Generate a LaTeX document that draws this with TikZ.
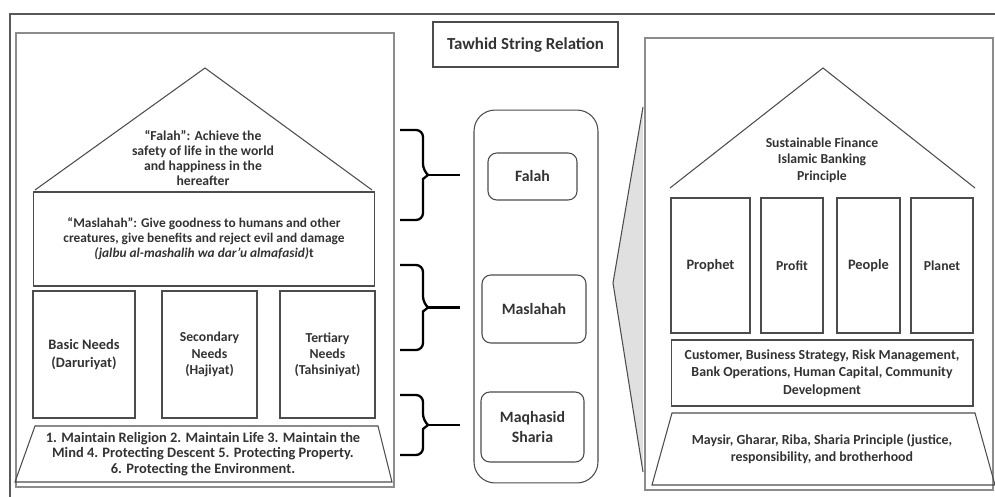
\documentclass[tikz,border=0pt]{standalone}
\usepackage{fontspec}
\setmainfont{Carlito}
\usetikzlibrary{positioning}

\begin{document}
\begin{tikzpicture}[x=0.02cm,y=-0.02cm]
        \tikzstyle{panel}=[draw=black!45, line width=0.6pt]
        \tikzstyle{box}=[draw=black!70, line width=0.6pt, inner sep=1pt, align=center, text=black!80, font=\fontsize{7.8}{9.2}\selectfont\bfseries]
        \tikzstyle{label}=[inner sep=0pt, align=center, text=black!80, font=\fontsize{7.8}{8.7}\selectfont\bfseries]
        \tikzstyle{mid}=[box, rounded corners=5pt, font=\fontsize{9}{11}\selectfont\bfseries]
        \tikzstyle{brace}=[line width=1.3pt]
        \useasboundingbox (0,0) rectangle (995,497);
        % outer frame
        \draw[black!65, line width=1pt] (10,497) -- (10,14) -- (995,14);
        % title
        \node[box, minimum width=3.7cm, minimum height=0.9cm, font=\fontsize{9.6}{11}\selectfont\bfseries] (title) at (525.5,44.5) {Tawhid String Relation};
        % left house
        \draw[panel] (16,33) rectangle (394,487);
        \draw[box] (35,190) -- (205,68) -- (372,190);
        \node[label] (falahtxt) at (203,158) {“Falah”: Achieve the\\safety of life in the world\\and happiness in the\\hereafter};
        \node[box, minimum width=6.84cm, minimum height=1.88cm, font=\fontsize{7.6}{8.6}\selectfont\bfseries] (maslahahL) at (204,239)
          {“Maslahah”: Give goodness to humans and other\\creatures, give benefits and reject evil and damage\\\textit{(jalbu al-mashalih wa dar'u almafasid)}t};
        \node[box, minimum width=2.04cm, minimum height=2.54cm, font=\fontsize{8.2}{9.8}\selectfont\bfseries] (basic) at (84,354.5) {Basic Needs\\(Daruriyat)};
        \node[box, minimum width=1.9cm, minimum height=2.54cm] (secondary) at (209.5,354.5) {Secondary\\Needs\\(Hajiyat)};
        \node[box, minimum width=1.9cm, minimum height=2.54cm] (tertiary) at (327.5,354.5) {Tertiary\\Needs\\(Tahsiniyat)};
        \draw[box] (35,426) -- (378,426) -- (392,482) -- (15,482) -- cycle;
        \node[label, font=\fontsize{8.2}{9}\selectfont\bfseries] (maqtxt) at (203,454) {1. Maintain Religion 2. Maintain Life 3. Maintain the\\Mind 4. Protecting Descent 5. Protecting Property.\\6. Protecting the Environment.};
        % braces
        \foreach \name/\top/\bot in {a/130/220, b/265/350, c/395/455} {
          \draw[brace] (400,\top) [rounded corners=4pt] -- (423,\top) -- (423,{(\top+\bot)/2-4}) [sharp corners] -- (428,{(\top+\bot)/2}) -- (423,{(\top+\bot)/2+4}) [rounded corners=4pt] -- (423,\bot) -- (400,\bot);
          \coordinate (tip\name) at (427,{(\top+\bot)/2});
          \coordinate (end\name) at (460,{(\top+\bot)/2});
          \draw[brace] (tip\name) -- (end\name);
        }
        % middle column
        \node[box, rounded corners=12pt, minimum width=2.48cm, minimum height=7.46cm] (column) at (536,296.5) {};
        \node[mid, minimum width=1.78cm, minimum height=0.94cm] (falah) at (532.5,176.5) {Falah};
        \node[mid, minimum width=2.08cm, minimum height=1.36cm] (maslahah) at (534,309) {Maslahah};
        \node[mid, minimum width=2.06cm, minimum height=1.4cm] (maqhasid) at (532.5,427) {Maqhasid\\Sharia};
        % callout wedge
        \draw[black!70, fill=black!12, line width=0.6pt] (643,107) -- (613,283) -- (643,472);
        % right house
        \draw[panel] (645,38) rectangle (993,490);
        \draw[box] (670,188) -- (823,68) -- (975,188);
        \node[label, font=\fontsize{7.8}{9.5}\selectfont\bfseries] (financetxt) at (822,160) {Sustainable Finance\\Islamic Banking\\Principle};
        \node[box, minimum width=1.58cm, minimum height=2.7cm, font=\fontsize{8.2}{9.5}\selectfont\bfseries] (prophet) at (710.5,265.5) {Prophet};
        \node[box, minimum width=1.24cm, minimum height=2.7cm] (profit) at (792,265.5) {Profit};
        \node[box, minimum width=1.26cm, minimum height=2.7cm, font=\fontsize{8.2}{9.5}\selectfont\bfseries] (people) at (868.5,265.5) {People};
        \node[box, minimum width=1.24cm, minimum height=2.7cm] (planet) at (942,265.5) {Planet};
        \node[box, minimum width=6.04cm, minimum height=1.32cm, font=\fontsize{7.9}{10}\selectfont\bfseries] (customer) at (822,373)
          {Customer, Business Strategy, Risk Management,\\Bank Operations, Human Capital, Community\\Development};
        \draw[box] (672,413) -- (975,413) -- (995,485) -- (652,485) -- cycle;
        \node[label, font=\fontsize{7.9}{10}\selectfont\bfseries] (maysirtxt) at (822,449) {Maysir, Gharar, Riba, Sharia Principle (justice,\\responsibility, and brotherhood};
\end{tikzpicture}
\end{document}
